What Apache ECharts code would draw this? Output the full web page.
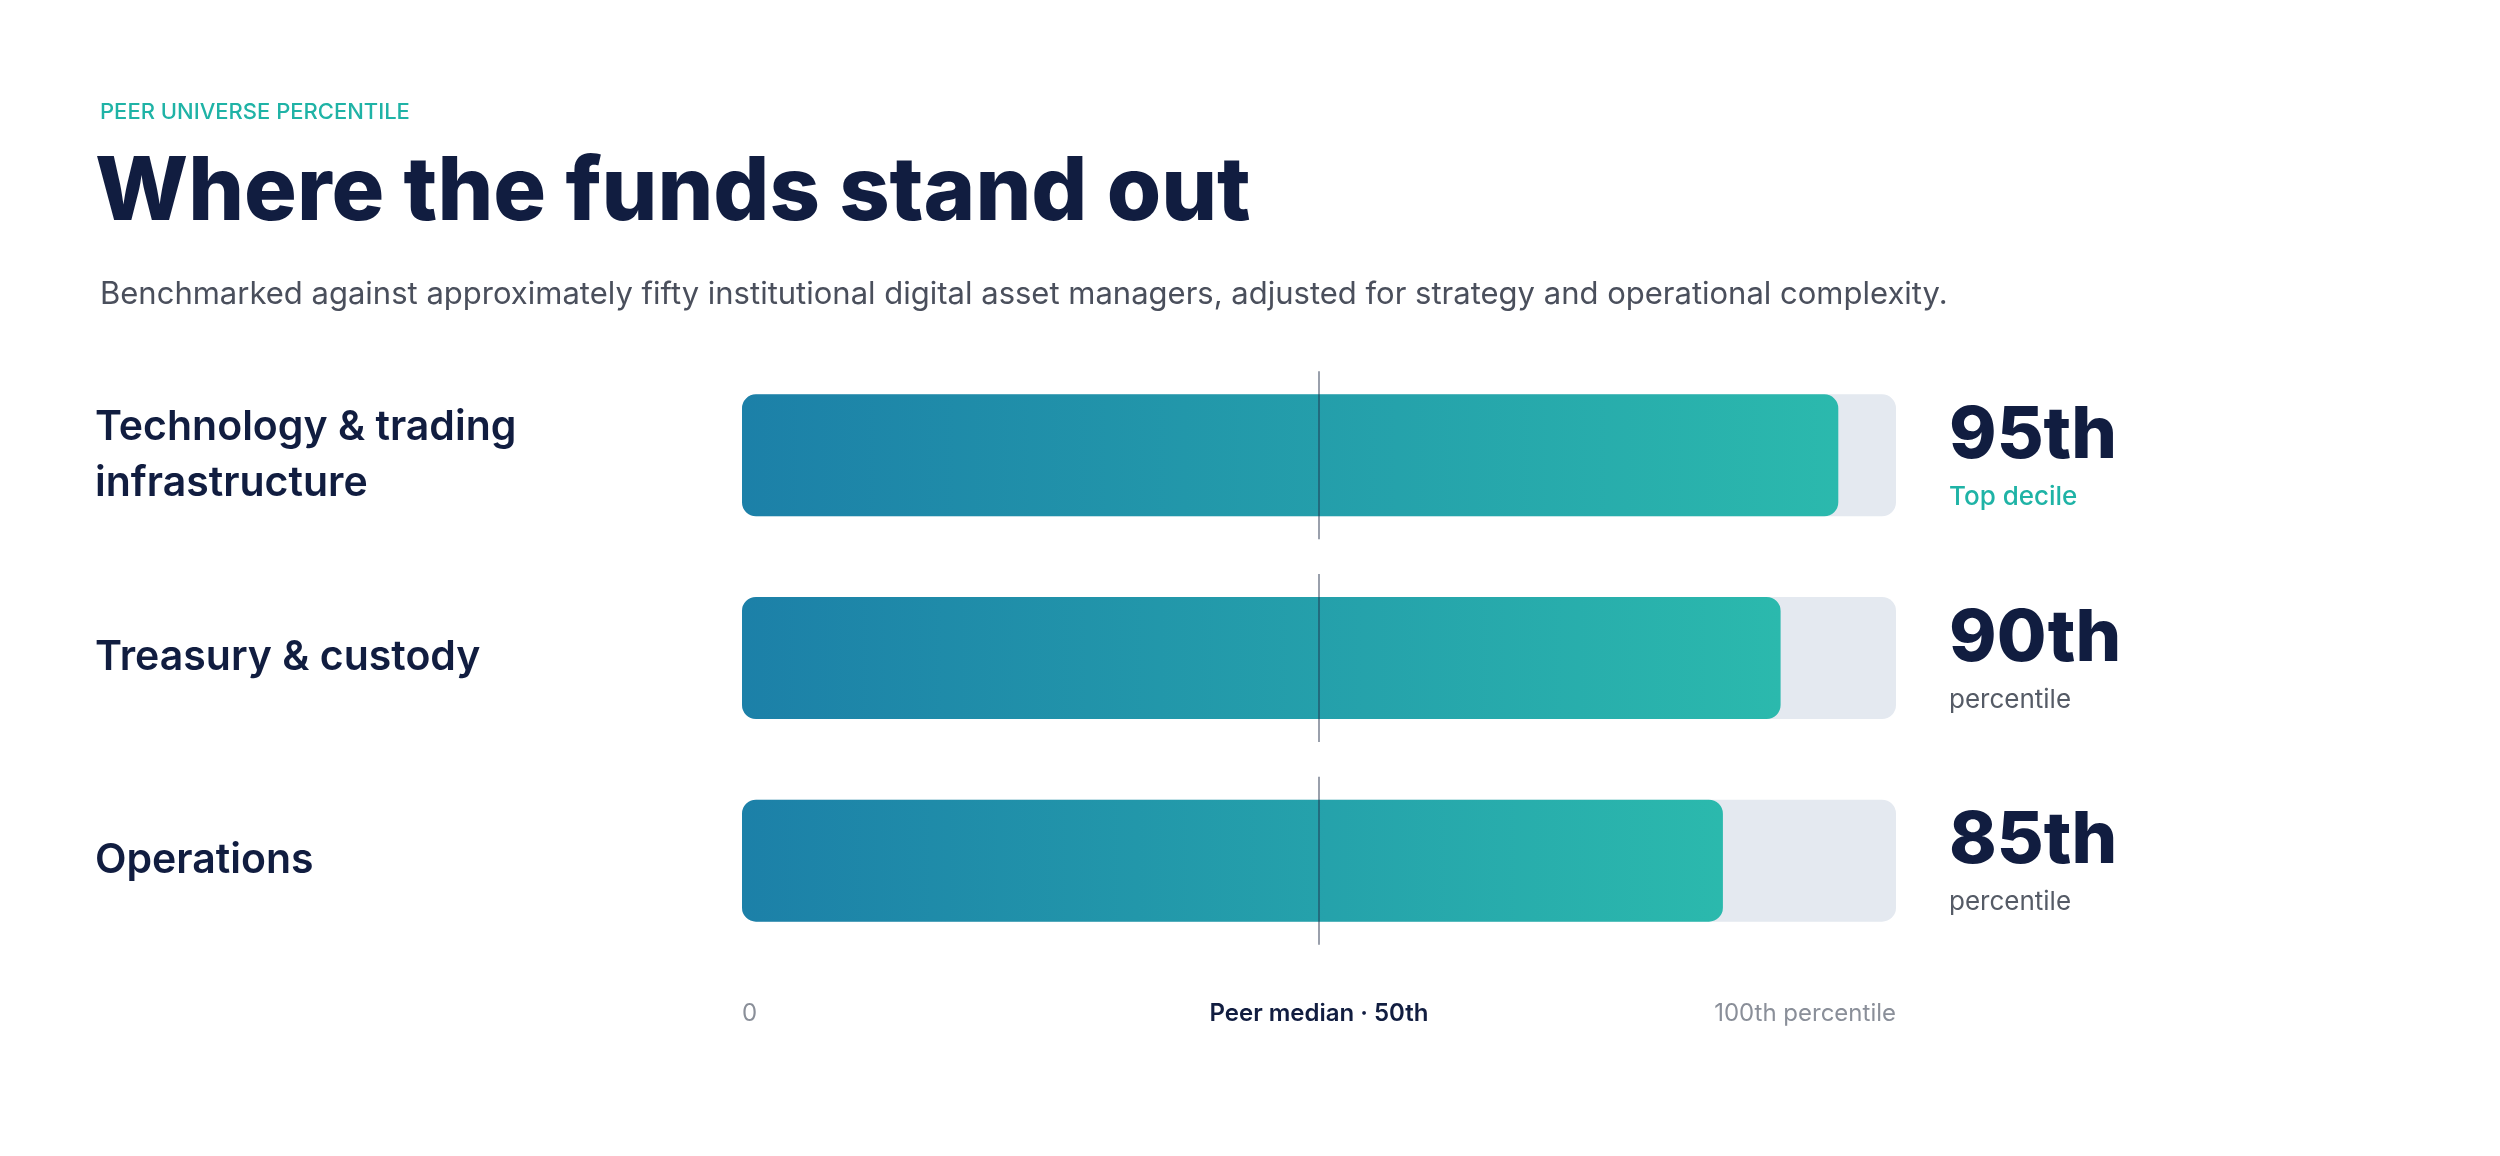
<!DOCTYPE html>
<html>
<head>
<meta charset="utf-8">
<script src="https://cdn.jsdelivr.net/npm/echarts@6/dist/echarts.min.js"></script>
<style>
  html, body { margin: 0; padding: 0; background: #fff; }
  #chart { width: 2500px; height: 1156px; }
</style>
</head>
<body>
<div id="chart"></div>
<script>
var categories = ['Technology & trading\ninfrastructure', 'Treasury & custody', 'Operations'];
var percentiles = [95, 90, 85];
var valueLabels = ['95th', '90th', '85th'];
var subLabels = ['Top decile', 'percentile', 'percentile'];
var medianValue = 50;
var axisTicks = ['0', 'Peer median · 50th', '100th percentile'];

var font = 'Inter, "Noto Sans", sans-serif';
var navy = '#111d40';

var chartDom = document.getElementById('chart');
var myChart = echarts.init(chartDom);
var option;

option = {
	textStyle: { fontFamily: font },
	title: [
		{
			text: 'PEER UNIVERSE PERCENTILE',
			left: 95, top: 96,
			textStyle: { fontSize: 22, fontWeight: 500, color: '#1fb3a6', fontFamily: font, letterSpacing: 3 }
		},
		{
			text: 'Where the funds stand out',
			left: 90, top: 145,
			textStyle: { fontSize: 88, fontWeight: 800, color: navy, fontFamily: font, letterSpacing: -1.5 }
		},
		{
			text: 'Benchmarked against approximately fifty institutional digital asset managers, adjusted for strategy and operational complexity.',
			left: 95, top: 274,
			textStyle: { fontSize: 31, fontWeight: 400, color: '#4a4f5c', fontFamily: font }
		}
	],
	grid: { left: 742, right: 604, top: 354, bottom: 194 },
	xAxis: {
		type: 'value', min: 0, max: 100, interval: 50,
		splitLine: { show: false }, axisLine: { show: false }, axisTick: { show: false },
		axisLabel: {
			margin: 40,
			alignMinLabel: 'left', alignMaxLabel: 'right',
			fontSize: 24, color: '#8a8f99',
			formatter: function (v) {
				if (v === 0) return axisTicks[0];
				if (v === 50) return '{m|' + axisTicks[1] + '}';
				return axisTicks[2];
			},
			rich: { m: { fontSize: 24, fontWeight: 600, color: navy, fontFamily: font } }
		}
	},
	yAxis: [
		{
			type: 'category', inverse: true, data: categories,
			axisLine: { show: false }, axisTick: { show: false },
			axisLabel: {
				margin: 647, align: 'left', fontSize: 41, fontWeight: 600,
				color: navy, lineHeight: 56
			}
		},
		{
			type: 'category', inverse: true, position: 'right', data: valueLabels,
			axisLine: { show: false }, axisTick: { show: false },
			axisLabel: {
				margin: 53, align: 'left',
				formatter: function (v, i) {
					var s = i === 0 ? 'a' : 's';
					return '{v|' + v + '}\n{' + s + '|' + subLabels[i] + '}';
				},
				rich: {
					v: { fontSize: 72, fontWeight: 800, color: navy, fontFamily: font, lineHeight: 84, padding: [0, 0, 4, 0] },
					a: { fontSize: 26, fontWeight: 500, color: '#1fb3a6', fontFamily: font, lineHeight: 34 },
					s: { fontSize: 26, fontWeight: 400, color: '#555b66', fontFamily: font, lineHeight: 34 }
				}
			}
		}
	],
	series: [
		{
			type: 'bar',
			data: percentiles,
			barWidth: 122,
			showBackground: true,
			backgroundStyle: { color: '#e4e9f0', borderRadius: 14 },
			itemStyle: {
				borderRadius: 14,
				color: new echarts.graphic.LinearGradient(0, 0, 1, 0, [
					{ offset: 0, color: '#1c80a8' },
					{ offset: 1, color: '#2bb9ad' }
				])
			},
			silent: true
		},
		{
			type: 'custom',
			data: percentiles.map(function (v, i) { return [medianValue, i]; }),
			renderItem: function (params, api) {
				var p = api.coord([api.value(0), api.value(1)]);
				return {
					type: 'line',
					shape: { x1: p[0], y1: p[1] - 84, x2: p[0], y2: p[1] + 84 },
					style: { stroke: 'rgba(30,45,70,0.45)', lineWidth: 2 }
				};
			},
			z: 5,
			silent: true
		}
	]
};

option && myChart.setOption(option);
</script>
</body>
</html>
